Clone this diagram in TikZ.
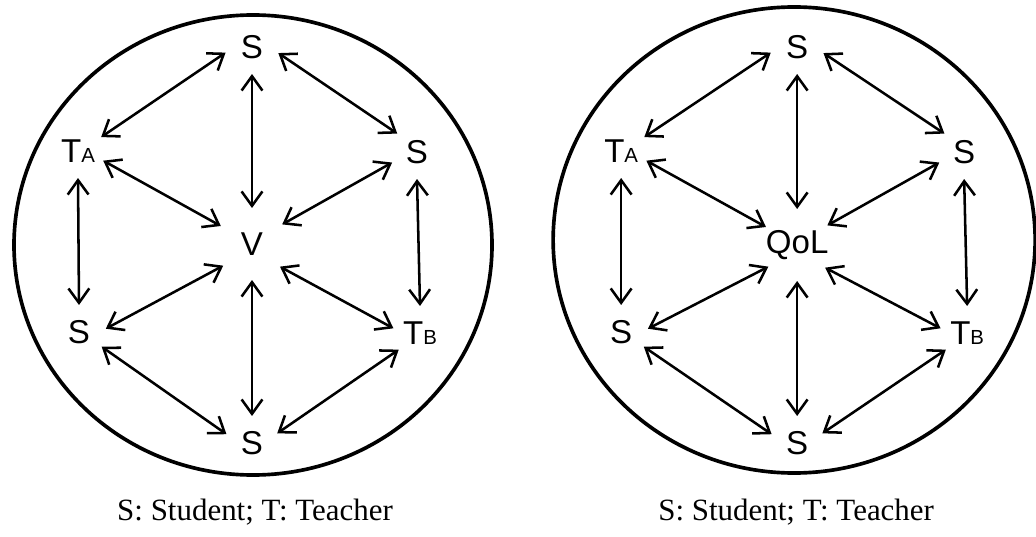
\documentclass[tikz,border=0pt]{standalone}
\usepackage{fontspec}
\setmainfont{Liberation Serif}
\newfontfamily\lblfont{Liberation Sans}
\usetikzlibrary{arrows.meta}

\newcommand{\teach}[1]{T{\fontsize{14.5}{17}\selectfont #1}}

\tikzset{
  lbl/.style={circle, inner sep=0pt, outer sep=0pt, minimum size=1.35cm,
    font=\lblfont\fontsize{23.5}{28}\selectfont},
  hub/.style={lbl, minimum size=1.8cm},
  biarr/.style={{Straight Barb[length=3.6mm,width=5.2mm]}-{Straight Barb[length=3.6mm,width=5.2mm]},
    line width=1.8pt},
  ring/.style={line width=2.6pt},
  note/.style={font=\fontsize{22}{26}\selectfont}
}

\begin{document}
\begin{tikzpicture}[x=0.025cm, y=-0.025cm]
                \useasboundingbox (0,0) rectangle (1036,537);
                % left panel
                \draw[ring] (253,245) ellipse [x radius=239, y radius=230];
                \node[lbl] (ls1) at (252,47) {S};
                \node[lbl] (lta) at (78,151) {\teach{A}};
                \node[lbl] (ls2) at (417,152) {S};
                \node[hub] (lv) at (252,244) {V};
                \node[lbl] (ls3) at (79,332) {S};
                \node[lbl] (ltb) at (420,333) {\teach{B}};
                \node[lbl] (ls4) at (252,443) {S};
                \draw[biarr] (ls1.192) -- (lta.31);
                \draw[biarr] (ls1.347) -- (ls2.137);
                \draw[biarr] (ls1.south) -- (lv.north);
                \draw[biarr] (lta.339) -- (lv.150);
                \draw[biarr] (ls2.203) -- (lv.33);
                \draw[biarr] (lta.south) -- (ls3.north);
                \draw[biarr] (ls2.south) -- (ltb.north);
                \draw[biarr] (lv.217) -- (ls3.7);
                \draw[biarr] (lv.321) -- (ltb.170);
                \draw[biarr] (lv.south) -- (ls4.north);
                \draw[biarr] (ls3.327) -- (ls4.161);
                \draw[biarr] (ltb.218) -- (ls4.21);
                \node[note] (lcap) at (255,512) {S: Student; T: Teacher};
                % right panel
                \begin{scope}[xshift=13.625cm]
                    \draw[ring] (249,240) ellipse [x radius=241, y radius=233];
                    \node[lbl] (rs1) at (252,47) {S};
                    \node[lbl] (rta) at (76,151) {\teach{A}};
                    \node[lbl] (rs2) at (419,152) {S};
                    \node[hub] (rq) at (252,245) {QoL};
                    \node[lbl] (rs3) at (76,332) {S};
                    \node[lbl] (rtb) at (422,333) {\teach{B}};
                    \node[lbl] (rs4) at (252,443) {S};
                    \draw[biarr] (rs1.192) -- (rta.31);
                    \draw[biarr] (rs1.347) -- (rs2.137);
                    \draw[biarr] (rs1.south) -- (rq.north);
                    \draw[biarr] (rta.339) -- (rq.150);
                    \draw[biarr] (rs2.203) -- (rq.33);
                    \draw[biarr] (rta.south) -- (rs3.north);
                    \draw[biarr] (rs2.south) -- (rtb.north);
                    \draw[biarr] (rq.217) -- (rs3.7);
                    \draw[biarr] (rq.321) -- (rtb.170);
                    \draw[biarr] (rq.south) -- (rs4.north);
                    \draw[biarr] (rs3.327) -- (rs4.161);
                    \draw[biarr] (rtb.218) -- (rs4.21);
                    \node[note] (rcap) at (251,512) {S: Student; T: Teacher};
                \end{scope}
\end{tikzpicture}
\end{document}
